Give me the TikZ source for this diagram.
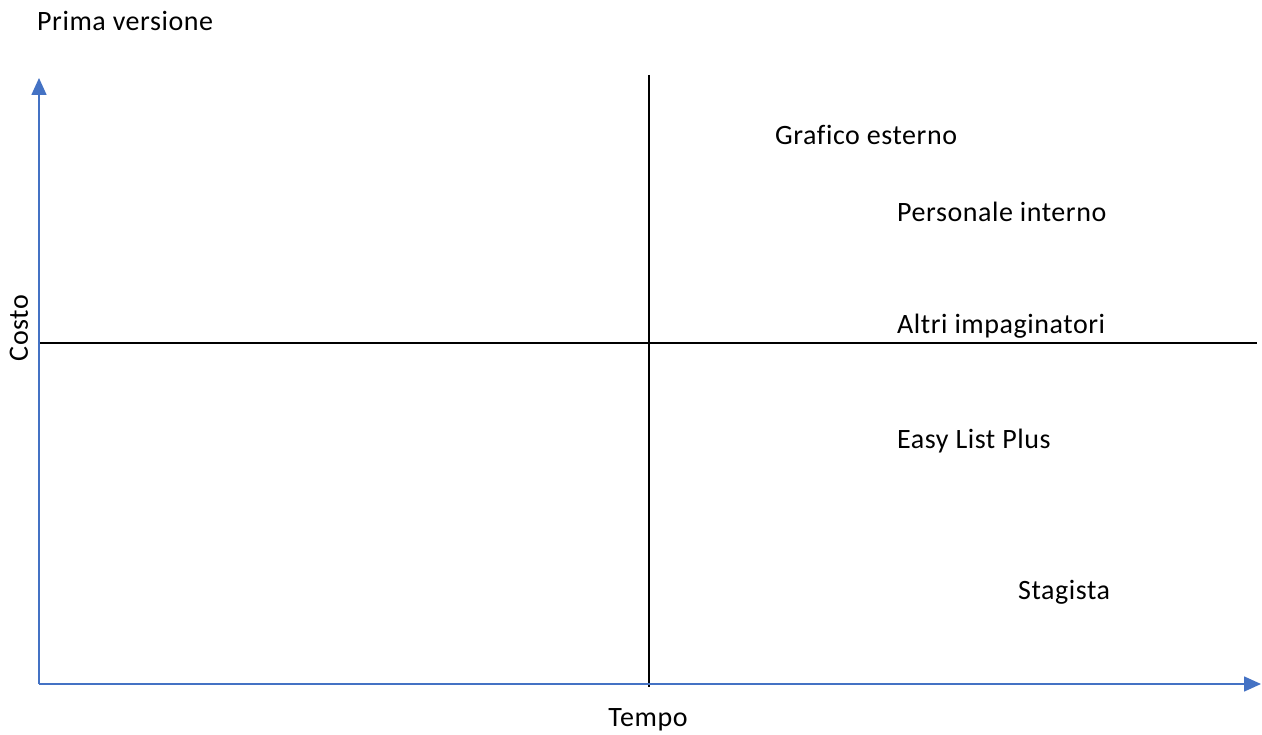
\documentclass[tikz,border=0pt]{standalone}
\usepackage{fontspec}
\setmainfont[Ligatures=NoCommon,LetterSpace=2]{Carlito}
\usetikzlibrary{arrows.meta}

\begin{document}
\begin{tikzpicture}[x=1pt,y=-1pt,
    axis/.style={draw={rgb,255:red,68;green,114;blue,196},line width=1.6pt,-{Triangle[length=17pt,width=15pt]}},
    quad/.style={black,line width=1.3pt},
    lbl/.style={font=\fontsize{28}{32}\selectfont,inner sep=0pt}]
    \useasboundingbox (0,0) rectangle (1262,735);
    \coordinate (o) at (39,684);
    \coordinate (ytop) at (39,78);
    \coordinate (xend) at (1261,684);
    % quadrant lines
    \coordinate (vt) at (649,75);
    \coordinate (vb) at (649,687);
    \coordinate (hl) at (39,343);
    \coordinate (hr) at (1257,343);
    \draw[quad] (vt) -- (vb);
    \draw[quad] (hl) -- (hr);
    \draw[axis] (o) -- (ytop);
    \draw[axis] (o) -- (xend);
    % labels
    \node[lbl,anchor=west] (titolo) at (37,21) {Prima versione};
    \node[lbl,anchor=west] (grafico) at (775,135) {Grafico esterno};
    \node[lbl,anchor=west] (personale) at (897,212) {Personale interno};
    \node[lbl,anchor=west] (altri) at (897,326) {Altri impaginatori};
    \node[lbl,anchor=west] (easy) at (897,441) {Easy List Plus};
    \node[lbl,anchor=west] (stagista) at (1018,592) {Stagista};
    \node[lbl] (tempo) at (648,720) {Tempo};
    \node[lbl,rotate=90] (costo) at (19,328) {Costo};
\end{tikzpicture}
\end{document}
